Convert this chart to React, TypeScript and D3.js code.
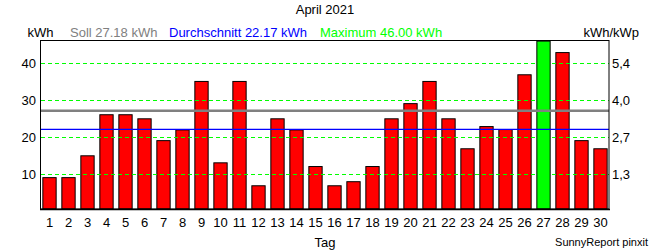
import React from "react";
import * as d3 from "d3";

const days = Array.from({ length: 30 }, (_, i) => String(i + 1));
const energy = [9.1, 9.1, 15.0, 26.1, 26.1, 25.0, 19.1, 22.0, 35.1, 13.1,
  35.1, 6.9, 25.0, 22.0, 12.1, 6.9, 8.0, 12.1, 25.0, 29.1,
  35.1, 25.0, 16.9, 22.9, 22.1, 36.9, 46.0, 42.9, 19.1, 16.9];
const leftTicks = [10, 20, 30, 40];
const soll = 27.18;
const avg = 22.17;
const maxVal = 46.0;
const kWp = 7.45;

const W = 650, H = 250;
const left = 40, right = 610, top = 40, bottom = 209;
const FONT = "'Liberation Sans', Arial, sans-serif";

export default function App() {
  const x = d3.scaleBand<string>().domain(days).range([left, right]).paddingInner(0.3).paddingOuter(0.15);
  const y = d3.scaleLinear().domain([0, 46.3]).range([211.3, top]);
  const y2 = d3.scaleLinear().domain([0, 46.3 / kWp]).range([211.3, top]);
  const rightTicks = leftTicks.map((v) => v / kWp);
  const fmt2 = (v: number) => d3.format(".1f")(v).replace(".", ",");
  const plotL = 41, plotR = 609;

  return (
    <svg width={W} height={H} style={{ position: "absolute", left: 0, top: 0, background: "#fff" }} fontFamily={FONT}>
      <rect x={0} y={0} width={W} height={H} fill="#fff" />
      <text x={325} y={13.5} fontSize={13} textAnchor="middle" fill="#000">April 2021</text>
      <text x={27.5} y={37} fontSize={13} fill="#000">kWh</text>
      <text x={70} y={37} fontSize={13} fill="#808080">Soll {soll.toFixed(2)} kWh</text>
      <text x={169} y={37} fontSize={13} fill="#0000ff">Durchschnitt {avg.toFixed(2)} kWh</text>
      <text x={320} y={37} fontSize={13} fill="#00ff00">Maximum {maxVal.toFixed(2)} kWh</text>
      <text x={639} y={37} fontSize={13} textAnchor="end" fill="#000">kWh/kWp</text>

      {energy.map((v, i) => (
        <rect key={i} x={x(days[i])!} y={y(v)} width={x.bandwidth()} height={bottom - y(v)}
          fill={v === maxVal ? "#00ff00" : "#ff0000"} stroke="#000" strokeWidth={1} />
      ))}

      {leftTicks.map((t) => (
        <g key={t}>
          <line x1={plotL} x2={plotR} y1={Math.round(y(t)) + 0.5} y2={Math.round(y(t)) + 0.5}
            stroke="#00ff00" strokeWidth={1} strokeDasharray="4,3" />
          <text x={36} y={y(t) + 4.7} fontSize={13} textAnchor="end" fill="#000">{t}</text>
        </g>
      ))}
      {rightTicks.map((t, i) => (
        <text key={i} x={612} y={y2(t) + 4.7} fontSize={13} fill="#000">{fmt2(t)}</text>
      ))}

      <line x1={plotL} x2={plotR} y1={y(soll)} y2={y(soll)} stroke="#808080" strokeWidth={2.6} />
      <line x1={plotL} x2={plotR} y1={y(avg)} y2={y(avg)} stroke="#0000ff" strokeWidth={1.3} />

      <rect x={40.5} y={40.5} width={568.5} height={168.5} fill="none" stroke="#000" strokeWidth={1} />
      <line x1={40} x2={610} y1={209.5} y2={209.5} stroke="#000" strokeWidth={1.5} />

      {days.map((d) => (
        <text key={d} x={x(d)! + x.bandwidth() / 2} y={227} fontSize={13} textAnchor="middle" fill="#000">{d}</text>
      ))}
      <text x={325} y={247} fontSize={13} textAnchor="middle" fill="#000">Tag</text>
      <text x={648} y={245.5} fontSize={11} textAnchor="end" fill="#000">SunnyReport pinxit</text>
    </svg>
  );
}
